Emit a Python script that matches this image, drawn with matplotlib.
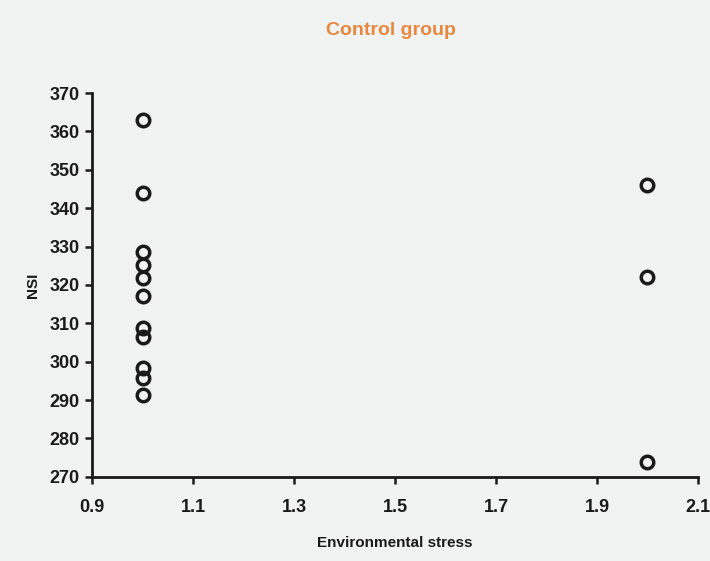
import matplotlib
matplotlib.use("Agg")
import matplotlib.pyplot as plt

# NSI readings for the control group at each stress level
stress_low = [1.0] * 11
nsi_low = [363, 344, 328.7, 325.2, 321.8, 317, 308.7, 306.5, 298.3, 295.7, 291.4]
stress_high = [2.0] * 3
nsi_high = [346, 322.2, 274]

x_ticks = [0.9, 1.1, 1.3, 1.5, 1.7, 1.9, 2.1]
y_ticks = list(range(270, 371, 10))

plt.rcParams['font.family'] = ['Liberation Sans', 'DejaVu Sans']
plt.rcParams['font.weight'] = 'bold'

bg = '#f1f3f3'
ink = '#1a1a1a'
fig = plt.figure(figsize=(7.1, 5.61), dpi=100, facecolor=bg)
ax = fig.add_axes([0.130, 0.150, 0.853, 0.684], facecolor=bg)

ax.plot(stress_low + stress_high, nsi_low + nsi_high, 'o', ms=9,
        mfc='none', mec=ink, mew=2.5, clip_on=False)

ax.set_xlim(0.9, 2.1)
ax.set_ylim(270, 370)
ax.set_xticks(x_ticks)
ax.set_xticklabels(['%.1f' % v for v in x_ticks])
ax.set_yticks(y_ticks)

for s in ['top', 'right']:
    ax.spines[s].set_visible(False)
for s in ['left', 'bottom']:
    ax.spines[s].set_linewidth(2.0)
    ax.spines[s].set_color(ink)

ax.tick_params(axis='both', direction='out', length=5, width=1.8,
               colors=ink, labelsize=13)
ax.tick_params(axis='x', pad=11)
ax.tick_params(axis='y', pad=4)

ax.set_xlabel('Environmental stress', fontsize=11, fontweight='bold',
              color=ink, labelpad=14)
ax.set_ylabel('NSI', fontsize=11, fontweight='bold', color=ink,
              labelpad=7)
fig.text(0.55, 0.945, 'Control group', ha='center', va='center',
         fontsize=14, fontweight='bold', color='#e8883e')

plt.savefig('out.png', dpi=100, facecolor=bg)
